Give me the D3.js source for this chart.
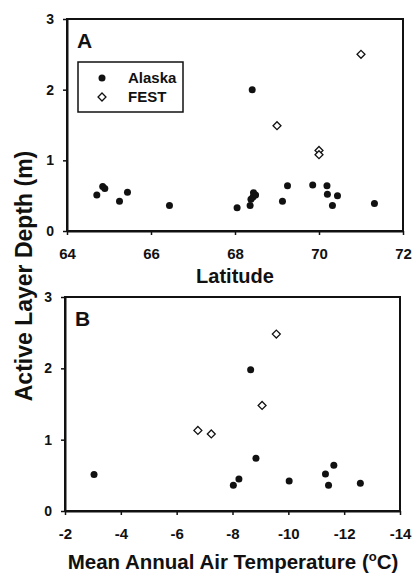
<!DOCTYPE html>
<html><head><meta charset="utf-8">
<script src="https://cdn.jsdelivr.net/npm/d3@7"></script>
<style>
html,body{margin:0;padding:0;background:#fff;}
text{font-family:"Liberation Sans",Arial,sans-serif;font-weight:bold;fill:#111;}
</style></head>
<body>
<svg id="c" width="417" height="577"></svg>
<script>
// Panel A: latitude vs active layer depth
const latAlaska   = [64.71, 64.85, 64.90, 65.25, 65.44, 66.44, 68.05, 68.36, 68.38, 68.43, 68.44, 68.49, 68.41, 69.13, 69.25, 69.85, 70.19, 70.20, 70.32, 70.44, 71.32];
const depthAlaskaA= [0.51, 0.63, 0.60, 0.42, 0.55, 0.36, 0.33, 0.36, 0.45, 0.48, 0.54, 0.51, 2.00, 0.42, 0.64, 0.65, 0.64, 0.52, 0.36, 0.50, 0.39];
const latFest     = [69.0, 70.0, 70.0, 71.0];
const depthFestA  = [1.49, 1.14, 1.08, 2.50];
// Panel B: mean annual air temperature vs active layer depth
const tempAlaska  = [-3.04, -8.03, -8.23, -8.65, -8.84, -10.03, -11.33, -11.44, -11.63, -12.58];
const depthAlaskaB= [0.51, 0.36, 0.45, 1.98, 0.74, 0.42, 0.52, 0.36, 0.64, 0.39];
const tempFest    = [-6.76, -7.24, -9.06, -9.57];
const depthFestB  = [1.13, 1.08, 1.48, 2.48];
// Tick values
const yTicks = [0, 1, 2, 3];
const latTicks = [64, 66, 68, 70, 72];
const tempTicks = [-2, -4, -6, -8, -10, -12, -14];

const svg = d3.select("#c");
const diamond = d3.symbol().type(d3.symbolDiamond2).size(40);

function panel(cfg){
  const x = d3.scaleLinear().domain(cfg.xDomain).range([cfg.left, cfg.right]);
  const y = d3.scaleLinear().domain([0, 3]).range([cfg.bottom, cfg.top]);
  const g = svg.append("g");
  // frame
  g.append("rect").attr("x", cfg.left).attr("y", cfg.top)
    .attr("width", cfg.right - cfg.left).attr("height", cfg.bottom - cfg.top)
    .attr("fill", "none").attr("stroke", "#111").attr("stroke-width", 2);
  // axes
  const xa = g.append("g").attr("transform", `translate(0,${cfg.bottom})`)
    .call(d3.axisBottom(x).tickValues(cfg.xTicks).tickSize(4).tickSizeOuter(0).tickPadding(13).tickFormat(d => d3.format("d")(d).replace("\u2212","-")));
  xa.select(".domain").attr("stroke", "#111").attr("stroke-width", 2);
  xa.selectAll(".tick line").attr("stroke", "#111").attr("stroke-width", 1.5);
  xa.selectAll(".tick text").style("font-size", "15px").style("font-weight", "bold")
    .style("font-family", "'Liberation Sans',Arial,sans-serif").attr("fill", "#111");
  const ya = g.append("g").attr("transform", `translate(${cfg.left},0)`)
    .call(d3.axisLeft(y).tickValues(yTicks).tickSize(4).tickSizeOuter(0).tickPadding(9).tickFormat(d3.format("d")));
  ya.select(".domain").attr("stroke", "#111").attr("stroke-width", 2);
  ya.selectAll(".tick line").attr("stroke", "#111").attr("stroke-width", 1.5);
  ya.selectAll(".tick text").style("font-size", "14px").style("font-weight", "bold")
    .style("font-family", "'Liberation Sans',Arial,sans-serif").attr("fill", "#111");
  // panel letter
  g.append("text").attr("x", cfg.left + 10).attr("y", cfg.top + 29)
    .style("font-size", "21px").text(cfg.letter);
  // points
  const alaska = cfg.ax.map((v, i) => [v, cfg.ay[i]]);
  const fest = cfg.fx.map((v, i) => [v, cfg.fy[i]]);
  g.selectAll("circle.al").data(alaska).join("circle")
    .attr("cx", d => x(d[0])).attr("cy", d => y(d[1])).attr("r", 3.5).attr("fill", "#111");
  g.selectAll("path.fe").data(fest).join("path")
    .attr("d", diamond)
    .attr("transform", d => `translate(${x(d[0])},${y(d[1])})`)
    .attr("fill", "#fff").attr("stroke", "#111").attr("stroke-width", 1.3);
  return {x, y, g};
}

const A = panel({left: 67, right: 403, top: 19, bottom: 231, xDomain: [64, 72], xTicks: latTicks,
  letter: "A", ax: latAlaska, ay: depthAlaskaA, fx: latFest, fy: depthFestA});
const B = panel({left: 65, right: 400, top: 297, bottom: 511, xDomain: [-2, -14], xTicks: tempTicks,
  letter: "B", ax: tempAlaska, ay: depthAlaskaB, fx: tempFest, fy: depthFestB});

// legend
const lg = svg.append("g");
lg.append("rect").attr("x", 78).attr("y", 62).attr("width", 105).attr("height", 50)
  .attr("fill", "#fff").attr("stroke", "#111").attr("stroke-width", 1.5);
lg.append("circle").attr("cx", 102).attr("cy", 78).attr("r", 3.5).attr("fill", "#111");
lg.append("path").attr("d", diamond)
  .attr("transform", "translate(102,97)")
  .attr("fill", "#fff").attr("stroke", "#111").attr("stroke-width", 1.3);
lg.append("text").attr("x", 128).attr("y", 83).style("font-size", "15px").text("Alaska");
lg.append("text").attr("x", 128).attr("y", 102).style("font-size", "15px").text("FEST");

// axis titles
svg.append("text").attr("x", 235).attr("y", 283).attr("text-anchor", "middle")
  .style("font-size", "20px").text("Latitude");
const t = svg.append("text").attr("x", 233).attr("y", 569).attr("text-anchor", "middle")
  .style("font-size", "20.5px");
t.append("tspan").text("Mean Annual Air Temperature (");
t.append("tspan").attr("dy", -8).style("font-size", "13px").text("o");
t.append("tspan").attr("dy", 8).text("C)");
svg.append("text").attr("transform", "translate(32,276) rotate(-90)").attr("text-anchor", "middle")
  .style("font-size", "23px").text("Active Layer Depth (m)");
</script>
</body></html>
